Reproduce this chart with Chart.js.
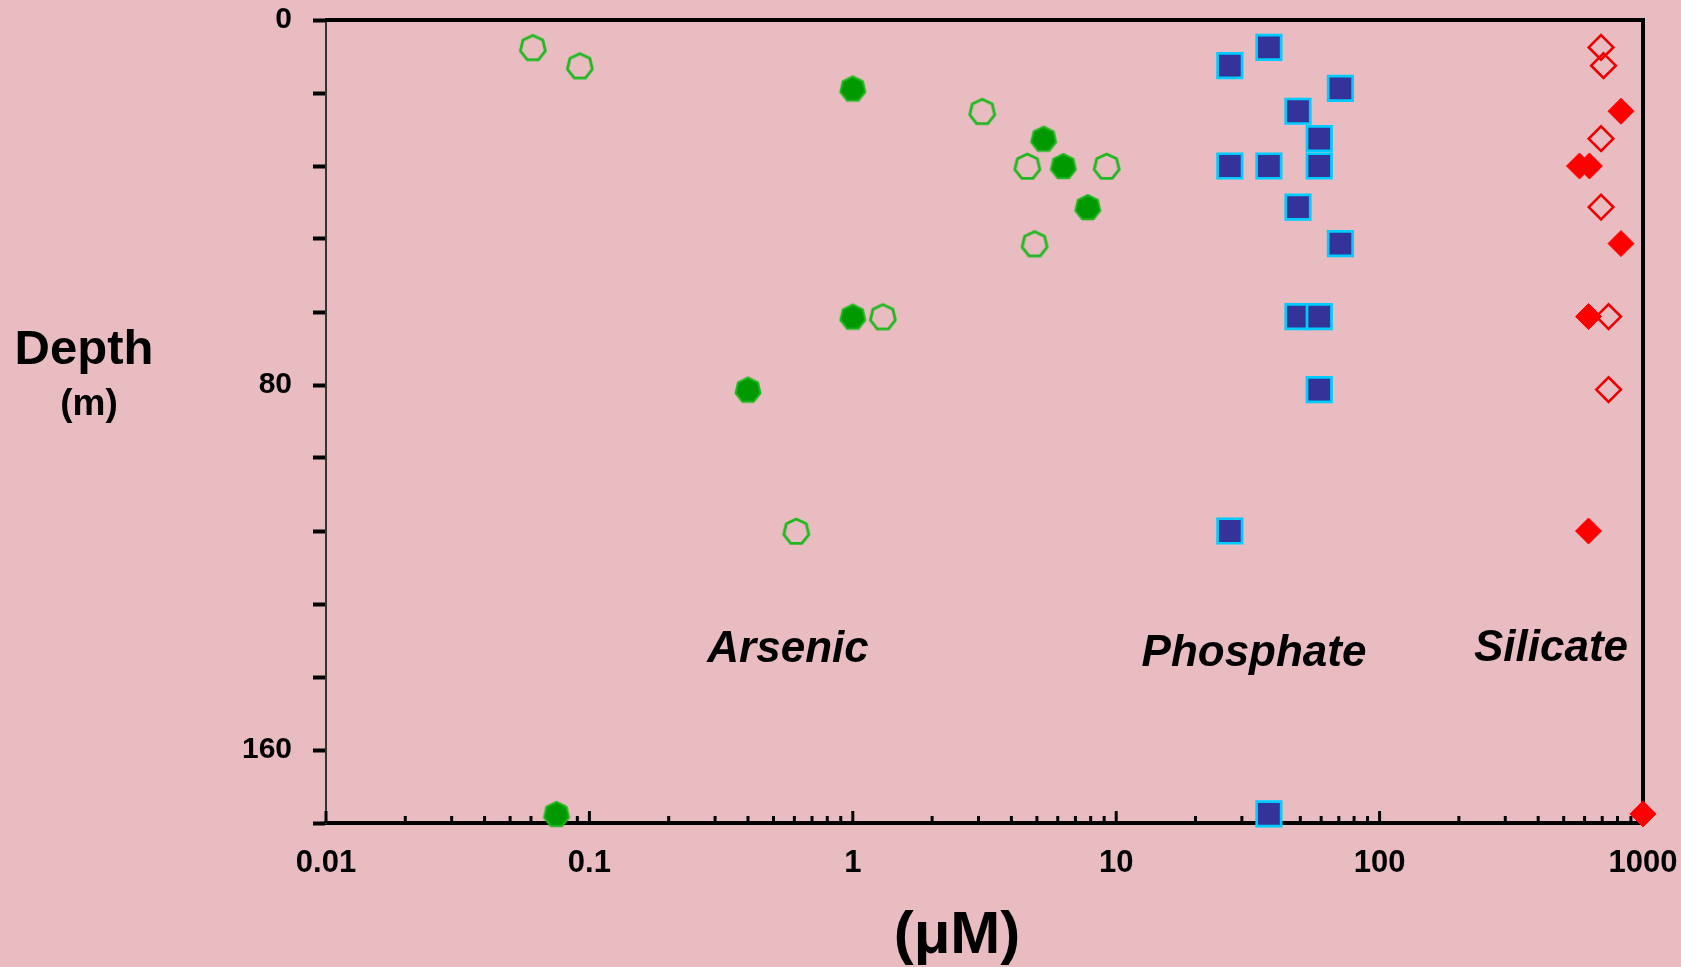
<!DOCTYPE html>
<html>
<head>
<meta charset="utf-8">
<title>Arsenic, phosphate and silicate depth profiles</title>
<script src="https://cdn.jsdelivr.net/npm/chart.js@4.4.1/dist/chart.umd.min.js"></script>
<style>
    html, body { margin: 0; padding: 0; background: #e8bcc1; }
    #wrap { position: relative; width: 1681px; height: 967px; }
</style>
</head>
<body>
<div id="wrap"><canvas id="profileChart"></canvas></div>
<script>
        // Concentrations (µM) and depths (m)
        const arsenicFilledConc = [1.0, 5.3, 6.3, 7.8, 1.0, 0.40, 0.075];
        const arsenicFilledDepth = [15, 26, 32, 41, 65, 81, 174];
        const arsenicOpenConc = [0.061, 0.092, 3.1, 4.6, 9.2, 4.9, 1.3, 0.61];
        const arsenicOpenDepth = [6, 10, 20, 32, 32, 49, 65, 112];
        const phosphateConc = [38, 27, 71, 49, 59, 27, 38, 59, 49, 71, 49, 59, 59, 27, 38];
        const phosphateDepth = [6, 10, 15, 20, 26, 32, 32, 32, 41, 49, 65, 65, 81, 112, 174];
        const silicateFilledConc = [825, 574, 626, 825, 621, 621, 1000];
        const silicateFilledDepth = [20, 32, 32, 49, 65, 112, 174];
        const silicateOpenConc = [693, 708, 693, 693, 740, 740];
        const silicateOpenDepth = [6, 10, 26, 41, 65, 81];

        const xTickLabels = [0.01, 0.1, 1, 10, 100, 1000];
        const yTickLabels = [0, 80, 160];

        const FONT = '"Liberation Sans", Arial, sans-serif';

        function toPoints(conc, depth) {
            return conc.map((c, i) => ({ x: c, y: depth[i] }));
        }

        // Heptagon marker used for arsenic
        function hepMarker(filled) {
            const c = document.createElement('canvas');
            c.width = 34;
            c.height = 34;
            const ctx = c.getContext('2d');
            ctx.beginPath();
            for (let k = 0; k < 7; k++) {
                const a = -Math.PI / 2 + k * 2 * Math.PI / 7;
                const px = 17 + 12.8 * Math.cos(a);
                const py = 17.8 + 12.8 * Math.sin(a);
                if (k === 0) ctx.moveTo(px, py); else ctx.lineTo(px, py);
            }
            ctx.closePath();
            if (filled) {
                ctx.fillStyle = '#009900';
                ctx.fill();
            }
            ctx.lineWidth = filled ? 2 : 2.8;
            ctx.lineJoin = 'round';
            ctx.strokeStyle = '#1fb81f';
            ctx.stroke();
            return c;
        }

        // Frame, inward log ticks and free text
        const framePlugin = {
            id: 'framePlugin',
            beforeDatasetsDraw(chart) {
                const { ctx, chartArea: a, scales: { x } } = chart;
                ctx.save();
                ctx.strokeStyle = '#000';
                ctx.lineWidth = 4;
                ctx.lineJoin = 'miter';
                ctx.beginPath();
                ctx.moveTo(a.left - 1, a.top);
                ctx.lineTo(a.right, a.top);
                ctx.lineTo(a.right, a.bottom);
                ctx.stroke();

                ctx.lineWidth = 3;
                for (let e = -2; e <= 3; e++) {
                    for (let k = 1; k <= 9; k++) {
                        const v = k * Math.pow(10, e);
                        if (v > x.max * 1.0001) break;
                        const px = x.getPixelForValue(v);
                        const len = k === 1 ? 12 : 7;
                        ctx.beginPath();
                        ctx.moveTo(px, a.bottom);
                        ctx.lineTo(px, a.bottom - len);
                        ctx.stroke();
                    }
                }
                ctx.restore();
            },
            afterDraw(chart) {
                const ctx = chart.ctx;
                ctx.save();
                ctx.fillStyle = '#000';
                ctx.textAlign = 'center';
                ctx.textBaseline = 'middle';
                ctx.font = 'bold 49px ' + FONT;
                ctx.fillText('Depth', 84, 350);
                ctx.font = 'bold 37px ' + FONT;
                ctx.fillText('(m)', 89, 405);
                ctx.font = 'bold 60px ' + FONT;
                ctx.fillText('(μM)', 957, 936);
                ctx.font = 'italic bold 44px ' + FONT;
                ctx.fillText('Arsenic', 788, 650);
                ctx.fillText('Phosphate', 1254, 654);
                ctx.fillText('Silicate', 1551, 649);
                ctx.restore();
            }
        };

        const profileChart = new Chart(
            document.getElementById('profileChart'),
            {
                type: 'scatter',
                data: {
                    datasets: [
                        {
                            label: 'Arsenic',
                            data: toPoints(arsenicFilledConc, arsenicFilledDepth),
                            pointStyle: hepMarker(true),
                            pointRadius: 13,
                            clip: false
                        },
                        {
                            label: 'Arsenic (open)',
                            data: toPoints(arsenicOpenConc, arsenicOpenDepth),
                            pointStyle: hepMarker(false),
                            pointRadius: 13,
                            clip: false
                        },
                        {
                            label: 'Phosphate',
                            data: toPoints(phosphateConc, phosphateDepth),
                            pointStyle: 'rect',
                            pointRadius: 17.3,
                            backgroundColor: '#333399',
                            borderColor: '#00ccff',
                            borderWidth: 2.7,
                            clip: false
                        },
                        {
                            label: 'Silicate',
                            data: toPoints(silicateFilledConc, silicateFilledDepth),
                            pointStyle: 'rectRot',
                            pointRadius: 13,
                            backgroundColor: '#ff0000',
                            borderColor: '#ff0000',
                            borderWidth: 1,
                            clip: false
                        },
                        {
                            label: 'Silicate (open)',
                            data: toPoints(silicateOpenConc, silicateOpenDepth),
                            pointStyle: 'rectRot',
                            pointRadius: 12.3,
                            backgroundColor: 'rgba(0,0,0,0)',
                            borderColor: '#ee0000',
                            borderWidth: 2.6,
                            clip: false
                        }
                    ]
                },
                options: {
                    responsive: true,
                    maintainAspectRatio: false,
                    animation: false,
                    events: [],
                    layout: {
                        padding: { top: 17, right: 38, bottom: 0, left: 0 }
                    },
                    plugins: {
                        legend: { display: false },
                        tooltip: { enabled: false }
                    },
                    scales: {
                        x: {
                            type: 'logarithmic',
                            position: 'bottom',
                            min: 0.01,
                            max: 1000,
                            afterFit: (s) => {
                                s.height = 144;
                                s.paddingLeft = 0;
                                s.paddingRight = 0;
                            },
                            afterBuildTicks: (s) => {
                                s.ticks = xTickLabels.map(v => ({ value: v }));
                            },
                            grid: { display: false, drawTicks: false },
                            border: { display: true, color: '#000', width: 4 },
                            ticks: {
                                autoSkip: false,
                                maxRotation: 0,
                                padding: 25,
                                color: '#000',
                                font: { family: FONT, size: 31, weight: 'bold', lineHeight: 1 },
                                callback: (v) => String(v)
                            }
                        },
                        y: {
                            type: 'linear',
                            reverse: true,
                            min: 0,
                            max: 176,
                            afterFit: (s) => {
                                s.width = 326;
                                s.paddingTop = 0;
                                s.paddingBottom = 0;
                            },
                            grid: {
                                display: true,
                                drawOnChartArea: false,
                                drawTicks: true,
                                tickLength: 13,
                                tickWidth: 4,
                                tickColor: '#000'
                            },
                            border: { display: true, color: '#333', width: 2 },
                            ticks: {
                                stepSize: 16,
                                autoSkip: false,
                                padding: 21,
                                color: '#000',
                                font: { family: FONT, size: 30, weight: 'bold', lineHeight: 1 },
                                callback: (v) => yTickLabels.includes(v) ? String(v) : ''
                            }
                        }
                    }
                },
                plugins: [framePlugin]
            }
        );
</script>
</body>
</html>
